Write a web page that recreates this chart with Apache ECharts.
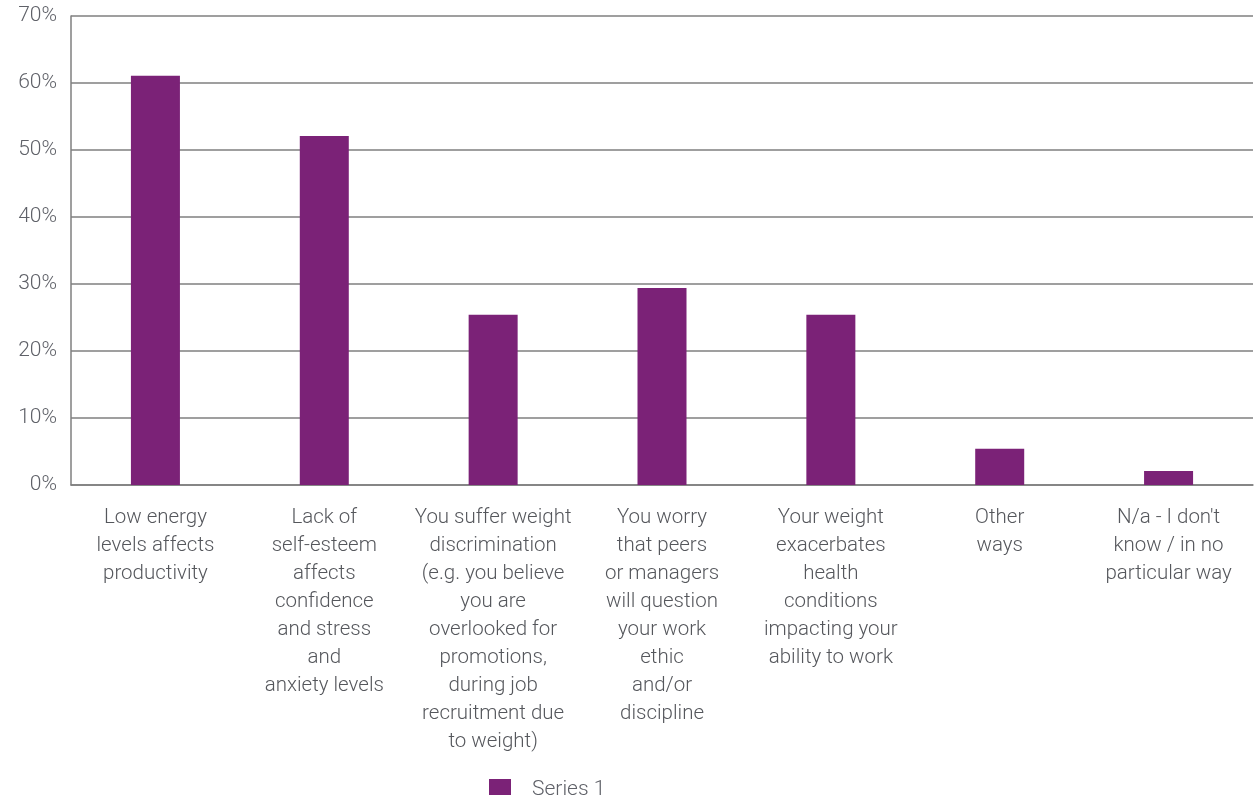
<!DOCTYPE html>
<html>
<head>
<meta charset="utf-8">
<script src="https://cdn.jsdelivr.net/npm/echarts@6/dist/echarts.min.js"></script>
<style>html,body{margin:0;padding:0;background:#fff;}#c{width:1259px;height:795px;}</style>
</head>
<body>
<div id="c"></div>
<script>
var categories = [
  'Low energy\nlevels affects\nproductivity',
  'Lack of\nself-esteem\naffects\nconfidence\nand stress\nand\nanxiety levels',
  'You suffer weight\ndiscrimination\n(e.g. you believe\nyou are\noverlooked for\npromotions,\nduring job\nrecruitment due\nto weight)',
  'You worry\nthat peers\nor managers\nwill question\nyour work\nethic\nand/or\ndiscipline',
  'Your weight\nexacerbates\nhealth\nconditions\nimpacting your\nability to work',
  'Other\nways',
  'N/a - I don\'t\nknow / in no\nparticular way'
];
var seriesName = 'Series 1';
var values = [61.1, 52.1, 25.4, 29.4, 25.4, 5.4, 2.1];

var chart = echarts.init(document.getElementById('c'), null, {renderer: 'canvas'});
chart.setOption({
  animation: false,
  textStyle: {fontFamily: 'Roboto, "Liberation Sans", sans-serif'},
  grid: {left: 71, right: 6, top: 16, bottom: 310, containLabel: false},
  legend: {
    data: [seriesName],
    left: 484, top: 774,
    itemWidth: 22, itemHeight: 22,
    icon: 'rect',
    textStyle: {fontSize: 21, color: '#5f6168', padding: [0, 0, 0, 16], fontWeight: 300}
  },
  xAxis: {
    type: 'category',
    data: categories,
    axisLine: {show: true, lineStyle: {color: '#7f7f7f', width: 1.5}},
    axisTick: {show: false},
    axisLabel: {interval: 0, margin: 19, fontSize: 20.5, lineHeight: 28, color: '#55575c', fontWeight: 300}
  },
  yAxis: {
    type: 'value',
    min: 0, max: 70, interval: 10,
    axisLine: {show: true, lineStyle: {color: '#7f7f7f', width: 1.5}},
    axisTick: {show: false},
    splitLine: {show: true, lineStyle: {color: '#7f7f7f', width: 1.5}},
    axisLabel: {formatter: '{value}%', margin: 14, fontSize: 21, color: '#5f6168', fontWeight: 300}
  },
  series: [{
    name: seriesName,
    type: 'bar',
    data: values,
    barWidth: 49,
    itemStyle: {color: '#7b2277'}
  }]
});
</script>
</body>
</html>
